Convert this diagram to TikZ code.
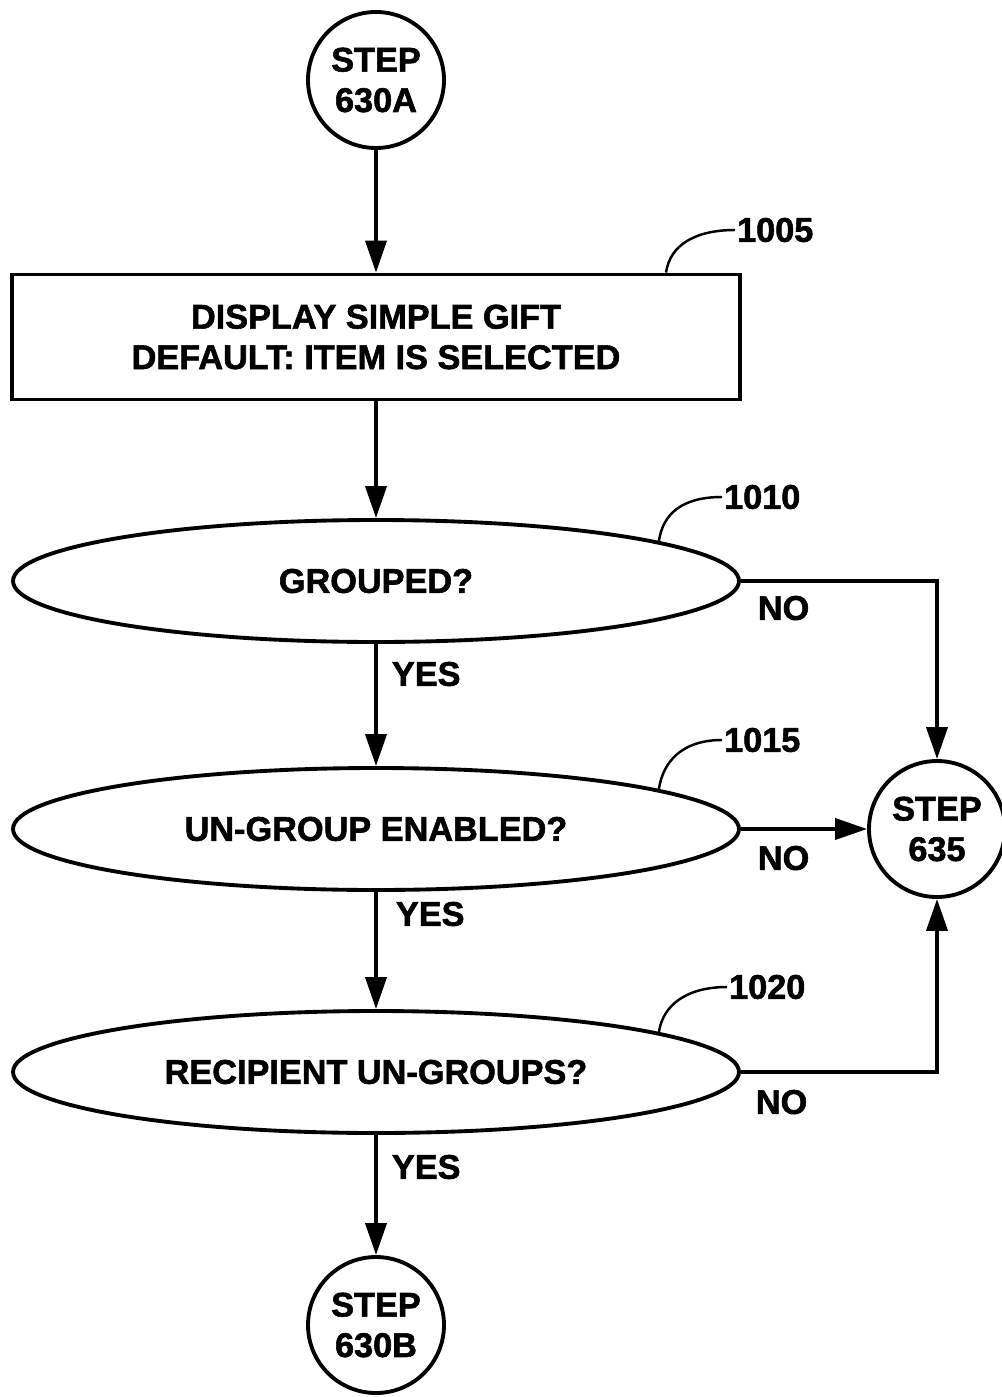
\documentclass[tikz,border=0pt]{standalone}
\usepackage{fontspec}
\setmainfont{Liberation Sans}[FakeBold=1.6]
\usetikzlibrary{shapes.geometric,arrows.meta}
\tikzset{>={Triangle[length=0.64cm,width=0.42cm]}}
\tikzset{
  every node/.style = {font=\fontsize{19.5}{23}\selectfont\bfseries},
  stepcircle/.style = {draw,circle,line width=2.2pt,minimum size=2.72cm,align=center,inner sep=0pt},
  actionbox/.style = {draw,rectangle,line width=2.2pt,minimum width=14.56cm,minimum height=2.5cm,align=center},
  decision/.style = {draw,ellipse,line width=2.2pt,minimum width=14.52cm,minimum height=2.44cm,inner sep=0pt},
  flow/.style = {line width=2.2pt},
  leader/.style = {line width=1.4pt},
  refnum/.style = {inner sep=1pt,anchor=west},
  answer/.style = {inner sep=0pt,pos=0,anchor=north west}
}

\begin{document}
\begin{tikzpicture}
  \useasboundingbox (0,0) rectangle (20.04,-27.94);
  \def\ColumnX{7.52}
  % steps and decisions
  \node[stepcircle] (step630A) at (\ColumnX,-1.6) {STEP\\630A};
  \node[actionbox] (box1005) at (\ColumnX,-6.74) {DISPLAY SIMPLE GIFT\\DEFAULT: ITEM IS SELECTED};
  \node[decision] (dec1010) at (\ColumnX,-11.62) {GROUPED?};
  \node[decision] (dec1015) at (\ColumnX,-16.58) {UN-GROUP ENABLED?};
  \node[decision] (dec1020) at (\ColumnX,-21.44) {RECIPIENT UN-GROUPS?};
  \node[stepcircle] (step635) at (18.74,-16.58) {STEP\\635};
  \node[stepcircle] (step630B) at (\ColumnX,-26.5) {STEP\\630B};
  % main flow
  \draw[flow,->] (step630A) -- (box1005);
  \draw[flow,->] (box1005) -- (dec1010);
  \draw[flow,->] (dec1010) -- node[answer,xshift=0.28cm,yshift=-0.32cm] {YES} (dec1015);
  \draw[flow,->] (dec1015) -- node[answer,xshift=0.36cm,yshift=-0.16cm] {YES} (dec1020);
  \draw[flow,->] (dec1020) -- node[answer,xshift=0.28cm,yshift=-0.36cm] {YES} (step630B);
  % no branches
  \draw[flow,->] (dec1010.east) -| node[answer,xshift=0.3cm,yshift=-0.26cm] {NO} (step635.north);
  \draw[flow,->] (dec1015.east) -- node[answer,xshift=0.3cm,yshift=-0.3cm] {NO} (step635.west);
  \draw[flow,->] (dec1020.east) -| node[answer,xshift=0.26cm,yshift=-0.32cm] {NO} (step635.south);
  % reference numbers
  \node[refnum] (n1005) at (14.7,-4.6) {1005};
  \node[refnum] (n1010) at (14.44,-9.94) {1010};
  \node[refnum] (n1015) at (14.44,-14.8) {1015};
  \node[refnum] (n1020) at (14.54,-19.74) {1020};
  \draw[leader] (n1005.west) .. controls +(-0.8,0) and +(0.08,0.55) .. ([xshift=5.8cm]box1005.north);
  \draw[leader] (n1010.west) .. controls +(-0.8,0) and +(0.08,0.55) .. (dec1010.8);
  \draw[leader] (n1015.west) .. controls +(-0.8,0) and +(0.08,0.55) .. (dec1015.8);
  \draw[leader] (n1020.west) .. controls +(-0.8,0) and +(0.08,0.55) .. (dec1020.8);
\end{tikzpicture}
\end{document}
